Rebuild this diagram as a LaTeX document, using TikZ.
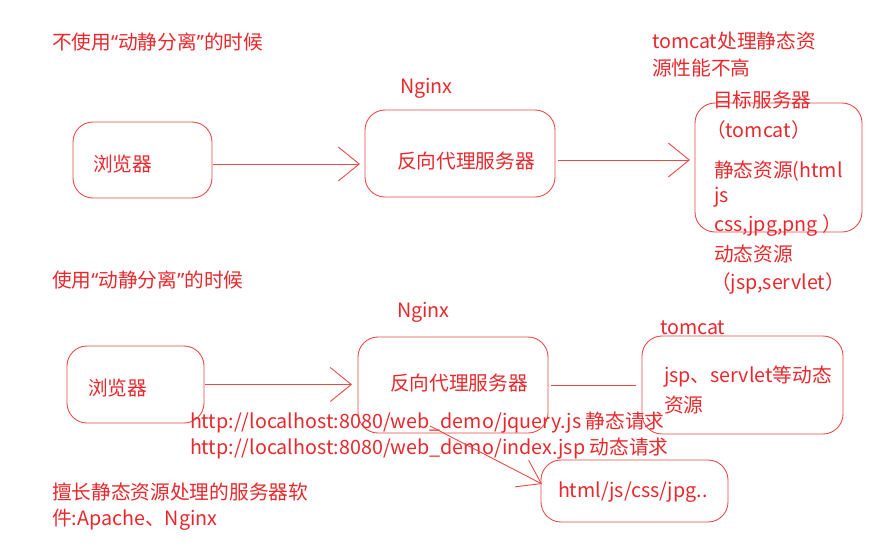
\documentclass[tikz,border=0pt]{standalone}
\usepackage{fontspec}
\setmainfont{Noto Sans CJK SC}
\newfontfamily\quotefont{Noto Sans}
\usetikzlibrary{arrows.meta}
\definecolor{inkred}{RGB}{232,40,44}
\definecolor{linered}{RGB}{236,72,72}
\newcommand{\openq}{{\quotefont “}}
\newcommand{\closeq}{{\quotefont ”}}

\begin{document}
\begin{tikzpicture}[x=1pt, y=-1pt,
    every node/.style={font=\fontsize{19.7}{23}\selectfont, text=inkred, inner sep=0pt, outer sep=0pt},
    lbl/.style={anchor=west},
    box/.style={draw=linered, line width=0.9pt, rounded corners=20pt},
    arr/.style={draw=linered, line width=0.9pt, -{Straight Barb[length=21pt, width=34pt]}}
]
\useasboundingbox (0,0) rectangle (880,552);

% without separation
\node[lbl] (title1) at (52,42) {不使用\openq 动静分离\closeq 的时候};
\node[lbl] (perf1) at (652,41) {tomcat处理静态资};
\node[lbl] (perf2) at (652,68) {源性能不高};
\node[lbl] (ngx1) at (400,88) {Nginx};
\node[box, minimum width=139pt, minimum height=76pt] (br1) at (142.5,160) {};
\node[lbl] (br1t) at (93,164) {浏览器};
\node[box, minimum width=190pt, minimum height=87pt] (px1) at (460,153.5) {};
\node[lbl] (px1t) at (397,161) {反向代理服务器};
\node[box, minimum width=167pt, minimum height=129pt] (tg) at (778.5,167.5) {};
\node[lbl] (tg1) at (713,100) {目标服务器};
\node[lbl] (tg2) at (706,130) {（tomcat）};
\node[lbl] (tg3) at (714,171) {静态资源(html};
\node[lbl] (tg4) at (714,197) {js};
\node[lbl] (tg5) at (714,226) {css,jpg,png ）};
\node[lbl] (tg6) at (714,254) {动态资源};
\node[lbl] (tg7) at (711,283) {（jsp,servlet）};

\draw[arr, shorten <=1pt, shorten >=5pt] ([yshift=-4pt]br1.east) -- ([yshift=-4pt]br1.east -| px1.west);
\draw[arr, shorten <=3pt, shorten >=5pt] ([yshift=-6.5pt]px1.east) -- ([yshift=-6.5pt]px1.east -| tg.west);

% with separation
\node[lbl] (title2) at (52,280) {使用\openq 动静分离\closeq 的时候};
\node[lbl] (ngx2) at (397,312) {Nginx};
\node[box, minimum width=137pt, minimum height=77pt] (br2) at (135.5,384.5) {};
\node[lbl] (br2t) at (88,388) {浏览器};
\node[box, minimum width=190pt, minimum height=96pt] (px2) at (453,385) {};
\node[lbl] (px2t) at (390,383) {反向代理服务器};
\node[lbl] (tcl) at (660,328) {tomcat};
\node[box, minimum width=201pt, minimum height=98pt] (tc) at (742.5,385) {};
\node[lbl] (tc1) at (664,377) {jsp、servlet等动态};
\node[lbl] (tc2) at (664,405) {资源};
\node[box, minimum width=187pt, minimum height=62pt] (hb) at (634.5,491) {};
\node[lbl] (hbt) at (558,492) {html/js/css/jpg..};
\node[lbl] (url1) at (190,423) {http://localhost:8080/web\_demo/jquery.js 静态请求};
\node[lbl] (url2) at (190,449) {http://localhost:8080/web\_demo/index.jsp 动态请求};
\node[lbl] (soft1) at (52,492) {擅长静态资源处理的服务器软};
\node[lbl] (soft2) at (52,520) {件:Apache、Nginx};

\coordinate (dfrom) at (430,426);
\coordinate (dto) at (542,484);
\draw[arr, shorten <=1pt, shorten >=6pt] (br2.east) -- (br2.east -| px2.west);
\draw[draw=linered, line width=0.9pt, shorten <=3pt, shorten >=6pt] (px2.east) -- (tc.west);
\draw[arr, -{Straight Barb[length=22pt, width=30pt]}] (dfrom) -- (dto);
\end{tikzpicture}
\end{document}
